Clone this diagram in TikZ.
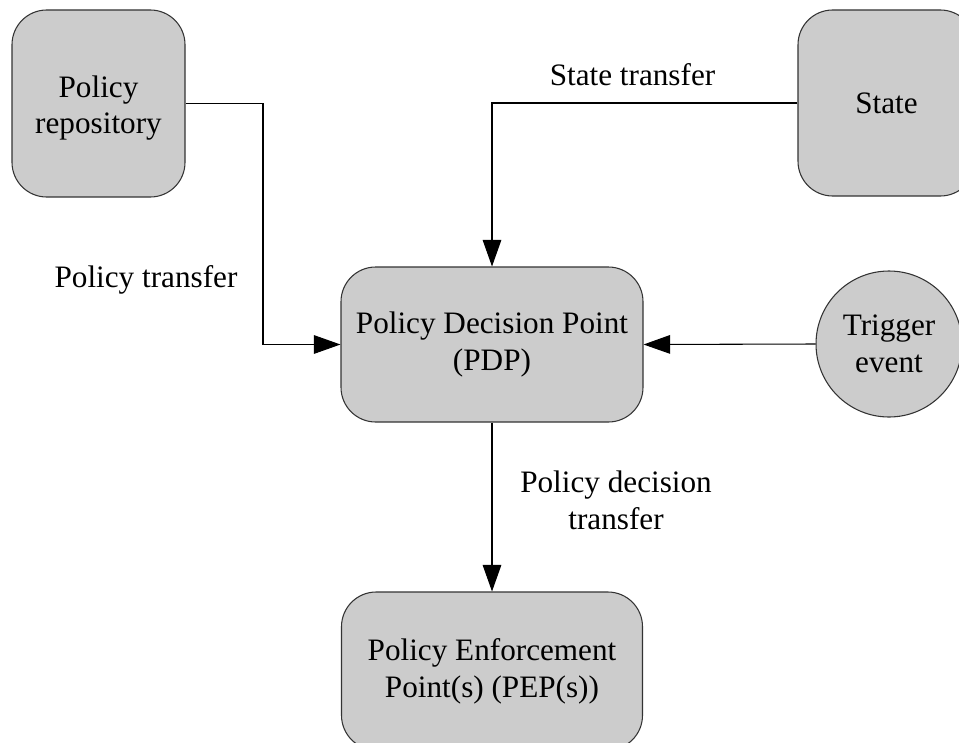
\documentclass[tikz,border=0pt]{standalone}
\usepackage{fontspec}
\setmainfont{Liberation Serif}
\usetikzlibrary{arrows.meta}
\newcommand\diagfont{\fontsize{23.4}{27.5}\selectfont}
\begin{document}
\begin{tikzpicture}[x=0.75pt,y=-0.75pt,
  block/.style={draw=black!80, line width=0.8pt, fill=black!20,
    rounded corners=26pt, align=center, inner sep=0pt, font=\diagfont},
  event/.style={circle, draw=black!80, line width=0.8pt, fill=black!20,
    align=center, inner sep=0pt, font=\diagfont},
  flow/.style={line width=0.8pt, -{Triangle[length=20pt,width=14pt]}},
  caption/.style={font=\diagfont, align=center, inner sep=0pt}]
  \useasboundingbox (0,0) rectangle (959,742);
  \clip (0,0) rectangle (959,742);

  % sources
  \node[block, minimum width=129.75pt, minimum height=140.25pt,
    label={[caption, yshift=-3.5pt]center:Policy\\repository}]
    (repo) at (98.5,103.5) {};
  \node[block, minimum width=132.75pt, minimum height=139.5pt]
    (state) at (886.5,103) {State};
  \node[event, minimum size=109.5pt] (trigger) at (889,344) {Trigger\\event};

  % decision and enforcement points
  \node[block, minimum width=226.5pt, minimum height=116.25pt]
    (pdp) at (492,344.5) {Policy Decision Point\\(PDP)};
  \node[block, minimum width=225.75pt, minimum height=118.5pt]
    (pep) at (492,671) {Policy Enforcement\\Point(s) (PEP(s))};

  % connectors
  \coordinate (jog) at (263,200);
  \draw[flow] (repo.east) -| (jog) |- (pdp.west);
  \draw[flow] (state.west) -| (pdp.north);
  \draw[flow] (trigger.west) -- (pdp.east);
  \draw[flow] (pdp.south) -- (pep.north);

  % connector labels
  \node[caption, anchor=base] (lstate) at (632.5,85) {State transfer};
  \node[caption, anchor=base] (lrepo) at (146,287) {Policy transfer};
  \node[caption] (lpdp) at (616,500) {Policy decision\\transfer};
\end{tikzpicture}
\end{document}
